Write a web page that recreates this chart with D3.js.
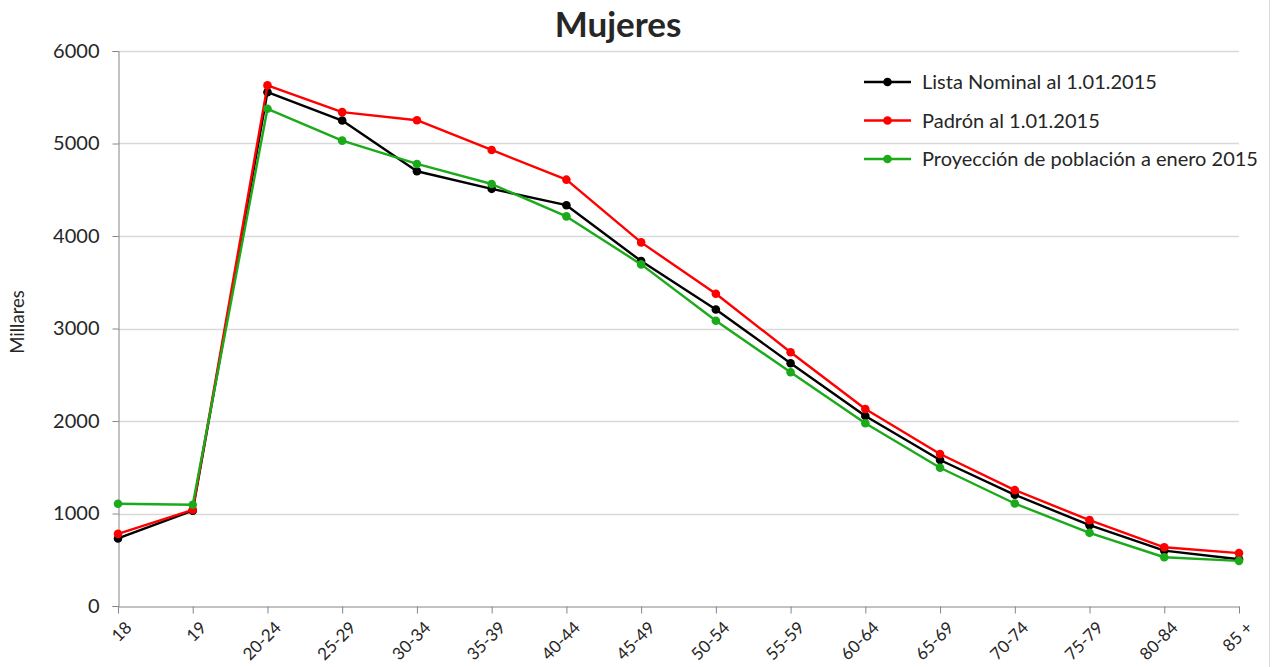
<!DOCTYPE html>
<html lang="es">
<head>
<meta charset="utf-8">
<title>Mujeres</title>
<script src="https://d3js.org/d3.v7.min.js"></script>
<style>
  body { margin: 0; background: #fff; }
  text { font-family: Lato, "Open Sans", sans-serif; fill: #262626; }
</style>
</head>
<body>
<svg id="chart"></svg>
<script>
// data (thousands)
const categories = ["18","19","20-24","25-29","30-34","35-39","40-44","45-49","50-54","55-59","60-64","65-69","70-74","75-79","80-84","85 +"];
const listaNominal = [730, 1030, 5555, 5248, 4700, 4510, 4333, 3729, 3206, 2625, 2054, 1578, 1202, 874, 599, 505];
const padron = [780, 1040, 5628, 5339, 5252, 4930, 4609, 3931, 3375, 2744, 2130, 1643, 1253, 928, 635, 572];
const proyeccion = [1105, 1095, 5375, 5031, 4779, 4562, 4212, 3693, 3083, 2527, 1975, 1495, 1108, 791, 527, 488];
const yTicks = [0, 1000, 2000, 3000, 4000, 5000, 6000];

const series = [
  {name: "Lista Nominal al 1.01.2015", values: listaNominal, color: "#000000"},
  {name: "Padrón al 1.01.2015", values: padron, color: "#ff0000"},
  {name: "Proyección de población a enero 2015", values: proyeccion, color: "#1aaa1a"}
];

const W = 1275, H = 667;
const mLeft = 118, mRight = 1239, mTop = 51, mBottom = 606;

const svg = d3.select("#chart").attr("width", W).attr("height", H);

// right border of the chart area
svg.append("line").attr("x1", 1269.5).attr("x2", 1269.5).attr("y1", 0).attr("y2", H)
   .attr("stroke", "#d9d9d9").attr("stroke-width", 1);

const x = d3.scalePoint().domain(categories).range([mLeft, mRight]);
const y = d3.scaleLinear().domain([0, 6000]).range([mBottom, mTop]);

// gridlines
svg.append("g").selectAll("line")
   .data(yTicks.filter(d => d > 0))
   .enter().append("line")
   .attr("x1", mLeft).attr("x2", mRight)
   .attr("y1", d => Math.round(y(d)) + 0.5).attr("y2", d => Math.round(y(d)) + 0.5)
   .attr("stroke", "#d9d9d9").attr("stroke-width", 1.3);

// y axis
const yAxis = svg.append("g")
   .attr("transform", "translate(" + (mLeft + 0.5) + ",0)")
   .call(d3.axisLeft(y).tickValues(yTicks).tickSize(6).tickPadding(13).tickFormat(d3.format("d")));
yAxis.selectAll("path,line").attr("stroke", "#868686");
yAxis.selectAll("text").style("font-size", "20px").attr("fill", "#262626");

// x axis
const xAxis = svg.append("g")
   .attr("transform", "translate(0," + (mBottom + 0.5) + ")")
   .call(d3.axisBottom(x).tickSize(7).tickSizeOuter(0));
xAxis.selectAll("path,line").attr("stroke", "#868686");
xAxis.selectAll("text")
   .style("font-size", "17px")
   .attr("fill", "#262626")
   .attr("text-anchor", "end")
   .attr("dy", "0.35em")
   .attr("transform", "translate(3,11) rotate(-45)");

// lines + markers
const line = d3.line().x((d, i) => x(categories[i])).y(d => y(d));
series.forEach(s => {
  svg.append("path").datum(s.values)
     .attr("d", line).attr("fill", "none")
     .attr("stroke", s.color).attr("stroke-width", 2.4).attr("stroke-linejoin", "round");
  svg.append("g").selectAll("circle")
     .data(s.values).enter().append("circle")
     .attr("cx", (d, i) => x(categories[i])).attr("cy", d => y(d))
     .attr("r", 4.3).attr("fill", s.color);
});

// title
svg.append("text").attr("x", 618).attr("y", 37)
   .attr("text-anchor", "middle")
   .style("font-size", "35px").style("font-weight", "bold").attr("fill", "#000")
   .text("Mujeres");

// y label
svg.append("text")
   .attr("transform", "translate(24,322) rotate(-90)")
   .attr("text-anchor", "middle")
   .style("font-size", "18.5px")
   .text("Millares");

// legend
const legend = svg.append("g").selectAll("g")
   .data(series).enter().append("g")
   .attr("transform", (d, i) => "translate(864," + (82 + i * 38.5) + ")");
legend.append("line").attr("x1", 0).attr("x2", 47).attr("y1", 0).attr("y2", 0)
   .attr("stroke", d => d.color).attr("stroke-width", 2.4);
legend.append("circle").attr("cx", 23.5).attr("cy", 0).attr("r", 4.3).attr("fill", d => d.color);
legend.append("text").attr("x", 58).attr("y", 0).attr("dy", "0.35em")
   .style("font-size", "20px")
   .text(d => d.name);
</script>
</body>
</html>
